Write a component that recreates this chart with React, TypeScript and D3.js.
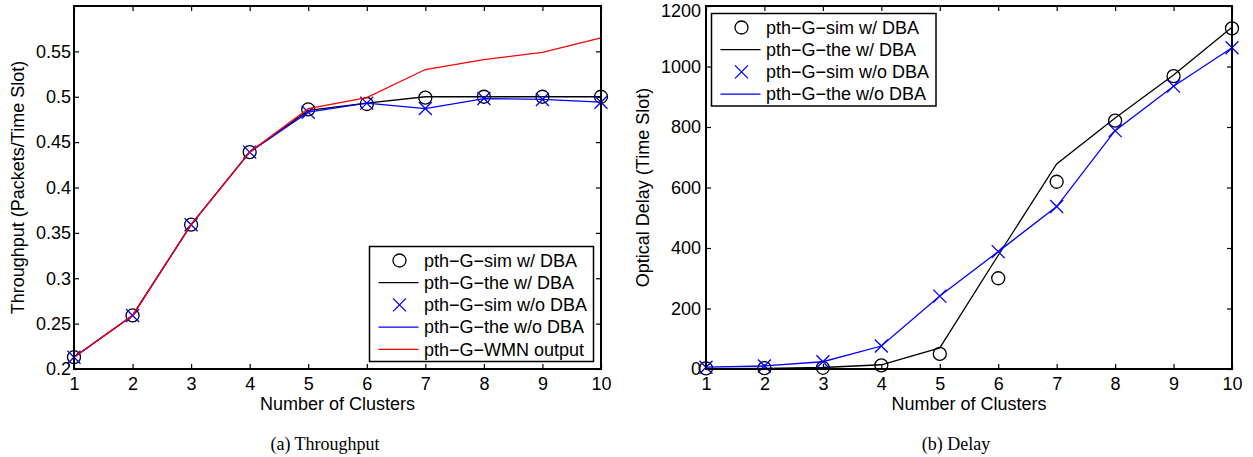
import { useRef, useEffect } from "react";
import * as d3 from "d3";

// data
const clusters = [1, 2, 3, 4, 5, 6, 7, 8, 9, 10];

const tputSimDBA = [0.213, 0.259, 0.359, 0.439, 0.486, 0.492, 0.499, 0.5, 0.5, 0.5];
const tputTheDBA = [0.213, 0.259, 0.359, 0.439, 0.485, 0.493, 0.5, 0.5, 0.5, 0.5];
const tputSimNoDBA = [0.213, 0.259, 0.359, 0.439, 0.483, 0.493, 0.487, 0.498, 0.497, 0.494];
const tputTheNoDBA = [0.213, 0.259, 0.359, 0.439, 0.483, 0.493, 0.487, 0.498, 0.497, 0.494];
const tputWMN = [0.213, 0.259, 0.359, 0.439, 0.487, 0.499, 0.53, 0.541, 0.549, 0.565];
const tputTicks = [0.2, 0.25, 0.3, 0.35, 0.4, 0.45, 0.5, 0.55];

const delaySimDBA = [2, 3, 4, 12, 50, 300, 619, 821, 968, 1126];
const delayTheDBA = [1, 2, 5, 14, 70, 376, 678, 830, 972, 1130];
const delaySimNoDBA = [6, 10, 24, 76, 241, 388, 537, 788, 935, 1062];
const delayTheNoDBA = [6, 10, 24, 76, 241, 388, 537, 788, 935, 1062];
const delayTicks = [0, 200, 400, 600, 800, 1000, 1200];

const legendNames = [
  "pth−G−sim w/ DBA",
  "pth−G−the w/ DBA",
  "pth−G−sim w/o DBA",
  "pth−G−the w/o DBA",
  "pth−G−WMN output",
];

const FONT = "'Liberation Sans', Arial, Helvetica, sans-serif";

type Series = { values: number[]; kind: "circle" | "cross" | "line"; color: string };

const drawPanel = (svg, cfg) => {
  const { x0, x1, y0, y1, yDomain, yTicks, yLabel, series, legend, caption, labelPad, yTitleX } = cfg;
  const x = d3.scaleLinear().domain([1, 10]).range([x0, x1]);
  const y = d3.scaleLinear().domain(yDomain).range([y1, y0]);
  const g = svg.append("g");

  // ticks (inward, on all four sides)
  const fmtTicks = (sel) => {
    sel.select(".domain").remove();
    sel.selectAll(".tick line").attr("stroke", "#000").attr("stroke-width", 1.2);
    sel.selectAll("text").attr("fill", "#000").style("font-size", "18px").style("font-family", FONT);
  };
  g.append("g").attr("transform", `translate(0,${y1})`)
    .call(d3.axisBottom(x).tickValues(clusters).tickSizeInner(-5).tickSizeOuter(0).tickPadding(8))
    .call(fmtTicks);
  g.append("g").attr("transform", `translate(0,${y0})`)
    .call(d3.axisTop(x).tickValues(clusters).tickSizeInner(-5).tickSizeOuter(0).tickFormat(() => ""))
    .call(fmtTicks);
  g.append("g").attr("transform", `translate(${x0},0)`)
    .call(d3.axisLeft(y).tickValues(yTicks).tickSizeInner(-5).tickSizeOuter(0).tickPadding(labelPad).tickFormat(d => String(d)))
    .call(fmtTicks)
    .call(a => a.selectAll(".tick text").filter(d => y(d) - y0 < 3).attr("dy", "0.58em")); // keep top label inside page
  g.append("g").attr("transform", `translate(${x1},0)`)
    .call(d3.axisRight(y).tickValues(yTicks).tickSizeInner(-5).tickSizeOuter(0).tickFormat(() => ""))
    .call(fmtTicks);

  // series
  const line = d3.line<number>().x((d, i) => x(clusters[i])).y(d => y(d));
  series.forEach((s: Series) => {
    if (s.kind === "line") {
      g.append("path").attr("d", line(s.values)).attr("fill", "none")
        .attr("stroke", s.color).attr("stroke-width", 1.3);
    } else if (s.kind === "circle") {
      g.append("g").selectAll("circle").data(s.values).join("circle")
        .attr("cx", (d, i) => x(clusters[i])).attr("cy", d => y(d)).attr("r", 6.5)
        .attr("fill", "none").attr("stroke", s.color).attr("stroke-width", 1.3);
    } else {
      g.append("g").selectAll("path").data(s.values).join("path")
        .attr("d", (d, i) => {
          const cx = x(clusters[i]), cy = y(d), r = 6.5;
          return `M${cx - r},${cy - r}L${cx + r},${cy + r}M${cx - r},${cy + r}L${cx + r},${cy - r}`;
        })
        .attr("fill", "none").attr("stroke", s.color).attr("stroke-width", 1.3);
    }
  });

  // frame
  g.append("rect").attr("x", x0).attr("y", y0).attr("width", x1 - x0).attr("height", y1 - y0)
    .attr("fill", "none").attr("stroke", "#000").attr("stroke-width", 2);

  // axis titles
  g.append("text").attr("x", (x0 + x1) / 2).attr("y", 410).attr("text-anchor", "middle")
    .style("font-family", FONT).style("font-size", "18px").text("Number of Clusters");
  g.append("text").attr("transform", `translate(${yTitleX},${(y0 + y1) / 2}) rotate(-90)`)
    .attr("text-anchor", "middle").style("font-family", FONT).style("font-size", "18px").text(yLabel);

  // legend
  const lg = g.append("g");
  lg.append("rect").attr("x", legend.x).attr("y", legend.y).attr("width", legend.w).attr("height", legend.h)
    .attr("fill", "#fff").attr("stroke", "#000").attr("stroke-width", 1.5);
  series.forEach((s: Series, i) => {
    const cy = legend.y + 14 + i * 22.2;
    const mx = legend.x + 30;
    if (s.kind === "line") {
      lg.append("line").attr("x1", mx - 21).attr("x2", mx + 19).attr("y1", cy).attr("y2", cy)
        .attr("stroke", s.color).attr("stroke-width", 1.3);
    } else if (s.kind === "circle") {
      lg.append("circle").attr("cx", mx).attr("cy", cy).attr("r", 6.5)
        .attr("fill", "none").attr("stroke", s.color).attr("stroke-width", 1.3);
    } else {
      const r = 6.5;
      lg.append("path").attr("d", `M${mx - r},${cy - r}L${mx + r},${cy + r}M${mx - r},${cy + r}L${mx + r},${cy - r}`)
        .attr("stroke", s.color).attr("stroke-width", 1.3);
    }
    lg.append("text").attr("x", legend.x + 54.5).attr("y", cy).attr("dy", "0.35em")
      .style("font-family", FONT).style("font-size", "18px").text(legendNames[i]);
  });

  // caption
  g.append("text").attr("x", caption.x).attr("y", 450).attr("text-anchor", "middle")
    .style("font-family", "'Liberation Serif', 'Times New Roman', serif").style("font-size", "18px").text(caption.text);
};

const App = () => {
  const svgRef = useRef<SVGSVGElement>(null);

  useEffect(() => {
    const svg = d3.select(svgRef.current);
    svg.selectAll("*").remove();

    drawPanel(svg, {
      x0: 74, x1: 601, y0: 6, y1: 369,
      yDomain: [0.2, 0.6], yTicks: tputTicks, labelPad: 3, yTitleX: 24,
      yLabel: "Throughput (Packets/Time Slot)",
      series: [
        { values: tputSimDBA, kind: "circle", color: "#000" },
        { values: tputTheDBA, kind: "line", color: "#000" },
        { values: tputSimNoDBA, kind: "cross", color: "#0000ff" },
        { values: tputTheNoDBA, kind: "line", color: "#0000ff" },
        { values: tputWMN, kind: "line", color: "#ff0000" },
      ],
      legend: { x: 369.5, y: 246.5, w: 224, h: 115 },
      caption: { x: 325, text: "(a) Throughput" },
    });

    drawPanel(svg, {
      x0: 706, x1: 1232, y0: 6, y1: 369,
      yDomain: [0, 1200], yTicks: delayTicks, labelPad: 5, yTitleX: 649,
      yLabel: "Optical Delay (Time Slot)",
      series: [
        { values: delaySimDBA, kind: "circle", color: "#000" },
        { values: delayTheDBA, kind: "line", color: "#000" },
        { values: delaySimNoDBA, kind: "cross", color: "#0000ff" },
        { values: delayTheNoDBA, kind: "line", color: "#0000ff" },
      ],
      legend: { x: 711.5, y: 13.5, w: 224.5, h: 92.5 },
      caption: { x: 956, text: "(b) Delay" },
    });
  }, []);

  return (
    <svg ref={svgRef} width={1253} height={457}
      style={{ position: "absolute", left: 0, top: 0, background: "#fff" }} />
  );
};

export default App;
